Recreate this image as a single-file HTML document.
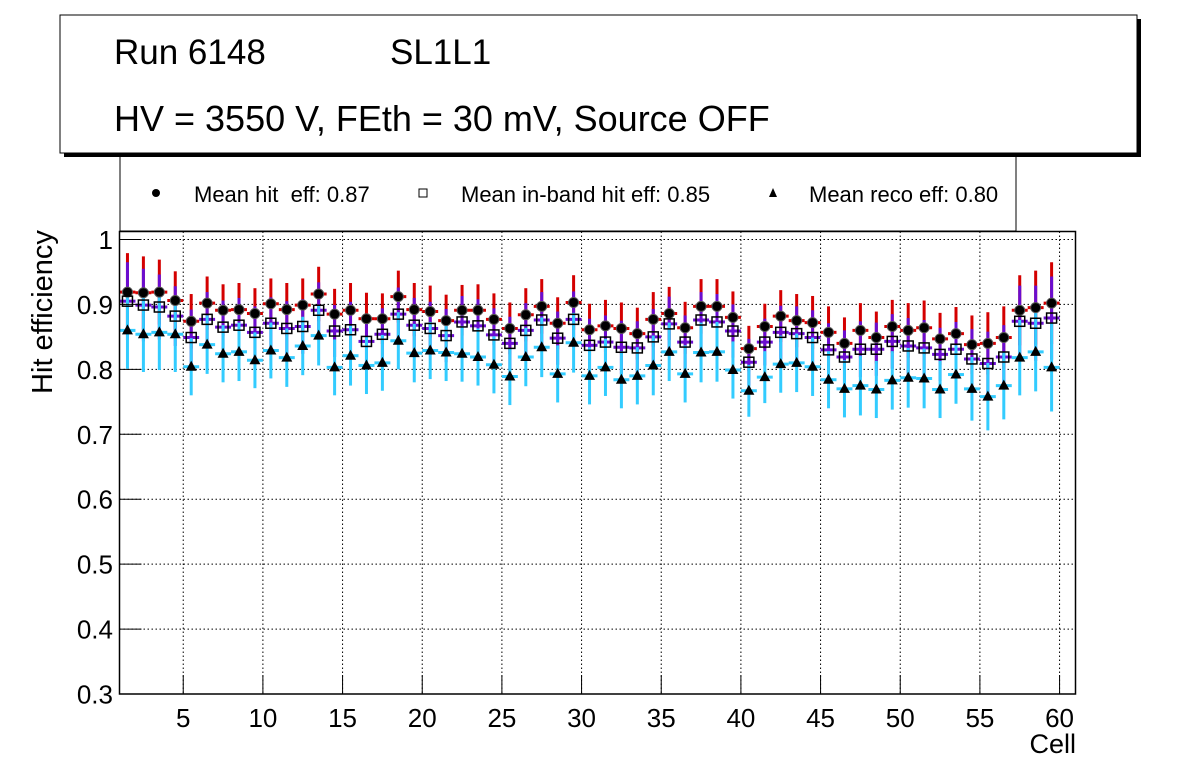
<!DOCTYPE html>
<html><head><meta charset="utf-8"><style>
html,body{margin:0;padding:0;background:#fff;}
svg{display:block;font-family:"Liberation Sans",Arial,sans-serif;}
</style></head><body>
<svg id="chart" width="1196" height="772" viewBox="0 0 1196 772" xmlns="http://www.w3.org/2000/svg">
  <rect x="0" y="0" width="1196" height="772" fill="#fff"/>
  <g id="grid"></g>
  <g id="series"></g>
  <rect x="119.5" y="231.5" width="956" height="462.5" fill="none" stroke="#000" stroke-width="1.5"/>
  <g id="axes"></g>
  <text x="52" y="312" font-size="29" text-anchor="middle" transform="rotate(-90 52 312)">Hit efficiency</text>
  <text x="1076" y="753" font-size="27" text-anchor="end">Cell</text>

  <g>
    <rect x="120" y="150" width="896" height="81" fill="#fff" stroke="#000" stroke-width="1"/>
    <g>
      <circle cx="156" cy="193" r="4" fill="#000"/>
      <text x="194" y="202" font-size="22" style="white-space:pre">Mean hit  eff: 0.87</text>
    </g>
    <g>
      <rect x="419" y="189" width="8" height="8" fill="#fff" stroke="#000" stroke-width="1"/>
      <text x="461" y="202" font-size="22">Mean in-band hit eff: 0.85</text>
    </g>
    <g>
      <polygon points="773,188 777,197 769,197" fill="#000"/>
      <text x="809" y="202" font-size="22">Mean reco eff: 0.80</text>
    </g>
  </g>

  <g>
    <rect x="64" y="19" width="1077" height="138" fill="#000"/>
    <rect x="60" y="15" width="1077" height="138" fill="#fff" stroke="#000" stroke-width="1"/>
    <text x="114" y="64" font-size="35">Run 6148</text>
    <text x="390" y="64" font-size="35">SL1L1</text>
    <text x="114" y="131" font-size="36">HV = 3550 V, FEth = 30 mV, Source OFF</text>
  </g>
</svg>
<script>
const cells = [1.5,2.5,3.5,4.5,5.5,6.5,7.5,8.5,9.5,10.5,11.5,12.5,13.5,14.5,15.5,16.5,17.5,18.5,19.5,20.5,21.5,22.5,23.5,24.5,25.5,26.5,27.5,28.5,29.5,30.5,31.5,32.5,33.5,34.5,35.5,36.5,37.5,38.5,39.5,40.5,41.5,42.5,43.5,44.5,45.5,46.5,47.5,48.5,49.5,50.5,51.5,52.5,53.5,54.5,55.5,56.5,57.5,58.5,59.5];
const hitEff = [0.919,0.918,0.919,0.906,0.874,0.902,0.891,0.892,0.886,0.901,0.892,0.899,0.916,0.885,0.891,0.878,0.878,0.912,0.892,0.889,0.875,0.891,0.891,0.877,0.863,0.884,0.897,0.871,0.903,0.861,0.867,0.863,0.855,0.877,0.886,0.864,0.897,0.897,0.880,0.832,0.866,0.882,0.875,0.872,0.857,0.840,0.860,0.849,0.866,0.860,0.864,0.847,0.855,0.838,0.840,0.849,0.891,0.895,0.902];
const hitErr = [0.060,0.056,0.050,0.045,0.042,0.041,0.040,0.041,0.039,0.039,0.041,0.041,0.042,0.039,0.042,0.040,0.039,0.040,0.041,0.040,0.040,0.039,0.040,0.040,0.040,0.041,0.042,0.040,0.042,0.040,0.040,0.040,0.040,0.042,0.041,0.040,0.042,0.042,0.040,0.035,0.035,0.040,0.041,0.041,0.040,0.040,0.042,0.040,0.041,0.042,0.042,0.040,0.041,0.045,0.048,0.048,0.054,0.057,0.063];
const inbandEff = [0.905,0.899,0.896,0.882,0.849,0.877,0.865,0.868,0.857,0.871,0.863,0.866,0.891,0.859,0.861,0.843,0.854,0.885,0.868,0.863,0.852,0.873,0.867,0.853,0.840,0.860,0.876,0.848,0.877,0.837,0.842,0.834,0.833,0.850,0.870,0.842,0.876,0.873,0.859,0.811,0.842,0.857,0.855,0.849,0.830,0.819,0.831,0.831,0.843,0.836,0.833,0.823,0.831,0.816,0.809,0.819,0.874,0.871,0.879];
const inbandErr = [0.060,0.056,0.050,0.046,0.043,0.042,0.041,0.042,0.040,0.040,0.042,0.042,0.043,0.040,0.043,0.041,0.040,0.041,0.042,0.041,0.041,0.040,0.041,0.041,0.041,0.042,0.043,0.041,0.043,0.041,0.041,0.041,0.041,0.043,0.042,0.041,0.043,0.043,0.041,0.036,0.036,0.041,0.042,0.042,0.041,0.041,0.043,0.041,0.042,0.043,0.043,0.041,0.042,0.046,0.049,0.049,0.055,0.058,0.064];
const recoEff = [0.860,0.854,0.857,0.854,0.804,0.838,0.824,0.827,0.814,0.829,0.818,0.836,0.852,0.803,0.821,0.806,0.810,0.844,0.825,0.829,0.826,0.824,0.819,0.807,0.789,0.819,0.834,0.793,0.841,0.790,0.803,0.784,0.790,0.806,0.827,0.793,0.826,0.827,0.799,0.767,0.788,0.808,0.810,0.804,0.784,0.770,0.775,0.769,0.783,0.787,0.786,0.769,0.792,0.770,0.758,0.775,0.818,0.827,0.803];
const recoErr = [0.059,0.058,0.058,0.058,0.044,0.045,0.044,0.045,0.043,0.043,0.045,0.045,0.046,0.043,0.046,0.044,0.043,0.044,0.045,0.044,0.044,0.043,0.044,0.044,0.044,0.045,0.046,0.044,0.046,0.044,0.044,0.044,0.044,0.046,0.045,0.044,0.046,0.046,0.044,0.040,0.040,0.044,0.045,0.045,0.044,0.044,0.046,0.044,0.045,0.046,0.046,0.044,0.045,0.049,0.052,0.052,0.058,0.061,0.068];
const xTicks = [5,10,15,20,25,30,35,40,45,50,55,60];
const yTicks = [0.3,0.4,0.5,0.6,0.7,0.8,0.9,1];

const NS = "http://www.w3.org/2000/svg";
const X0 = 119.5, X1 = 1075.5, Y0 = 694, Y1 = 231.5;
const xMin = 1, xMax = 61, yMin = 0.3, yMax = 1.0123;
function sx(v){ return X0 + (v - xMin) / (xMax - xMin) * (X1 - X0); }
function sy(v){ return Y0 - (v - yMin) / (yMax - yMin) * (Y0 - Y1); }
function mk(tag, attrs, parent){
  const e = document.createElementNS(NS, tag);
  for (const k in attrs) e.setAttribute(k, attrs[k]);
  parent.appendChild(e);
  return e;
}
const grid = document.getElementById('grid');
const axes = document.getElementById('axes');
const series = document.getElementById('series');

xTicks.forEach(function(t){
  const x = sx(t);
  const g = mk('line', {x1:x, x2:x, y1:Y1, y2:Y0, stroke:'#000', 'stroke-width':1, 'stroke-dasharray':'1.5,2.5'}, grid);
  
  
  const tk = mk('line', {x1:x, x2:x, y1:Y0, y2:Y0-19, stroke:'#000', 'stroke-width':1}, axes);
  
  
  const lb = mk('text', {x:x, y:727, 'font-size':26, 'text-anchor':'middle'}, axes);
  lb.textContent = String(t);
  
  
});
yTicks.forEach(function(t){
  const y = sy(t);
  if (t > yMin) {
    const g = mk('line', {x1:X0, x2:X1, y1:y, y2:y, stroke:'#000', 'stroke-width':1, 'stroke-dasharray':'1.5,2.5'}, grid);
    
    
  }
  const tk = mk('line', {x1:X0, x2:X0+22, y1:y, y2:y, stroke:'#000', 'stroke-width':1}, axes);
  
  
  const lb = mk('text', {x:113, y:y+9.5, 'font-size':26, 'text-anchor':'end'}, axes);
  lb.textContent = String(t);
  
  
});

function errBars(vals, errs, color, name){
  const g = mk('g', {}, series);
  
  
  cells.forEach(function(c, i){
    const x = sx(c), y = sy(vals[i]);
    mk('line', {x1:x, x2:x, y1:sy(vals[i]+errs[i]), y2:sy(vals[i]-errs[i]), stroke:color, 'stroke-width':3}, g);
    mk('line', {x1:sx(c-0.5), x2:sx(c+0.5), y1:y, y2:y, stroke:color, 'stroke-width':3}, g);
  });
}
errBars(hitEff, hitErr, '#d40000', 'hit-error-bars');
errBars(inbandEff, inbandErr, '#6a0dd0', 'inband-error-bars');
errBars(recoEff, recoErr, '#33ccff', 'reco-error-bars');

cells.forEach(function(c, i){
  const x = sx(c);
  const p = mk('circle', {cx:x, cy:sy(hitEff[i]), r:5, fill:'#000', stroke:'#555', 'stroke-width':1}, series);
  
  
  const s = mk('rect', {x:x-5, y:sy(inbandEff[i])-5, width:10, height:10, fill:'none', stroke:'#000', 'stroke-width':1.5}, series);
  
  
  const ty = sy(recoEff[i]);
  const t = mk('polygon', {points:(x)+','+(ty-6)+' '+(x+5.5)+','+(ty+4)+' '+(x-5.5)+','+(ty+4), fill:'#000'}, series);
  
  
});
</script>
</body></html>
